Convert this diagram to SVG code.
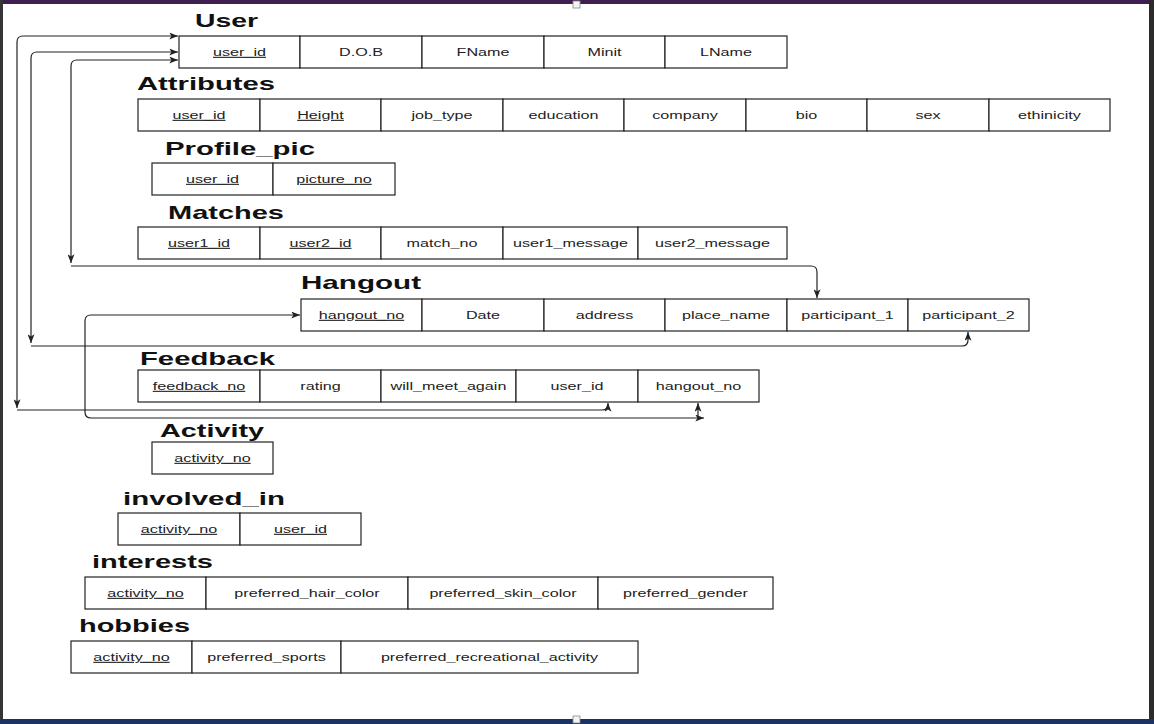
<svg xmlns="http://www.w3.org/2000/svg" width="1154" height="724" viewBox="0 0 1154 724">
<style>
.c{fill:#fff;stroke:#222;stroke-width:1.2}
.t{font-family:"Liberation Sans",Arial,sans-serif;font-size:11px;fill:#222;text-anchor:middle}
.k{text-decoration:underline}
.h{font-family:"Liberation Sans",Arial,sans-serif;font-weight:bold;font-size:19px;fill:#111}
.e{fill:none;stroke:#222;stroke-width:1.2}
</style>
<defs>
<marker id="a" viewBox="0 0 10 8" refX="10" refY="4" markerWidth="9" markerHeight="7" markerUnits="userSpaceOnUse" orient="auto-start-reverse">
<path d="M0,0 L10,4 L0,8 L2.5,4 Z" fill="#222"/>
</marker>
</defs>
<rect x="0" y="0" width="1154" height="724" fill="#fff"/>
<rect x="0" y="0" width="1154" height="4" fill="#3f1f4f"/>
<rect x="0" y="0" width="3" height="724" fill="#353535"/>
<rect x="1149" y="0" width="5" height="724" fill="#2b2b2b"/>
<rect x="0" y="719" width="1154" height="5" fill="#1c3263"/>
<rect x="573" y="1" width="7" height="7" fill="#f4f4f4" stroke="#888" stroke-width="0.8"/>
<rect x="573" y="716" width="7" height="7" fill="#f4f4f4" stroke="#888" stroke-width="0.8"/>

<g id="connectors">
<path class="e" d="M 17,408 L 17,42 Q 17,36 23,36 L 178,36" marker-start="url(#a)" marker-end="url(#a)"/>
<path class="e" d="M 17,410 L 602,410 Q 608,410 608,404 L 608,403" marker-end="url(#a)"/>
<path class="e" d="M 31,343 L 31,58 Q 31,52 37,52 L 178,52" marker-start="url(#a)" marker-end="url(#a)"/>
<path class="e" d="M 31,346 L 962,346 Q 968,346 968,340 L 968,332" marker-end="url(#a)"/>
<path class="e" d="M 71,263 L 71,66 Q 71,60 77,60 L 178,60" marker-start="url(#a)" marker-end="url(#a)"/>
<path class="e" d="M 71,266 L 811,266 Q 817,266 817,272 L 817,298" marker-end="url(#a)"/>
<path class="e" d="M 704,418 L 91,418 Q 85,418 85,412 L 85,321 Q 85,315 91,315 L 300,315" marker-start="url(#a)" marker-end="url(#a)"/>
<path class="e" d="M 698,418 L 698,403" marker-end="url(#a)"/>
</g>

<g id="User">
<text class="h" x="195" y="27" textLength="63" lengthAdjust="spacingAndGlyphs">User</text>
<rect class="c" x="179" y="36" width="121" height="32"/><rect class="c" x="300" y="36" width="122" height="32"/><rect class="c" x="422" y="36" width="122" height="32"/><rect class="c" x="544" y="36" width="121" height="32"/><rect class="c" x="665" y="36" width="122" height="32"/>
<text class="t k" transform="translate(239.5,56) scale(1.47,1)">user_id</text>
<text class="t" transform="translate(361,56) scale(1.47,1)">D.O.B</text>
<text class="t" transform="translate(483,56) scale(1.47,1)">FName</text>
<text class="t" transform="translate(604.5,56) scale(1.47,1)">Minit</text>
<text class="t" transform="translate(726,56) scale(1.47,1)">LName</text>
</g>

<g id="Attributes">
<text class="h" x="137" y="90" textLength="138" lengthAdjust="spacingAndGlyphs">Attributes</text>
<rect class="c" x="138" y="99" width="122" height="32"/><rect class="c" x="260" y="99" width="121" height="32"/><rect class="c" x="381" y="99" width="122" height="32"/><rect class="c" x="503" y="99" width="121" height="32"/><rect class="c" x="624" y="99" width="122" height="32"/><rect class="c" x="746" y="99" width="121" height="32"/><rect class="c" x="867" y="99" width="122" height="32"/><rect class="c" x="989" y="99" width="121" height="32"/>
<text class="t k" transform="translate(199,119) scale(1.47,1)">user_id</text>
<text class="t k" transform="translate(320.5,119) scale(1.47,1)">Height</text>
<text class="t" transform="translate(442,119) scale(1.47,1)">job_type</text>
<text class="t" transform="translate(563.5,119) scale(1.47,1)">education</text>
<text class="t" transform="translate(685,119) scale(1.47,1)">company</text>
<text class="t" transform="translate(806.5,119) scale(1.47,1)">bio</text>
<text class="t" transform="translate(928,119) scale(1.47,1)">sex</text>
<text class="t" transform="translate(1049.5,119) scale(1.47,1)">ethinicity</text>
</g>

<g id="Profile_pic">
<text class="h" x="165" y="155" textLength="150" lengthAdjust="spacingAndGlyphs">Profile_pic</text>
<rect class="c" x="152" y="163" width="121" height="32"/><rect class="c" x="273" y="163" width="122" height="32"/>
<text class="t k" transform="translate(212.5,183) scale(1.47,1)">user_id</text>
<text class="t k" transform="translate(334,183) scale(1.47,1)">picture_no</text>
</g>

<g id="Matches">
<text class="h" x="168" y="219" textLength="116" lengthAdjust="spacingAndGlyphs">Matches</text>
<rect class="c" x="138" y="227" width="122" height="32"/><rect class="c" x="260" y="227" width="121" height="32"/><rect class="c" x="381" y="227" width="122" height="32"/><rect class="c" x="503" y="227" width="135" height="32"/><rect class="c" x="638" y="227" width="149" height="32"/>
<text class="t k" transform="translate(199,247) scale(1.47,1)">user1_id</text>
<text class="t k" transform="translate(320.5,247) scale(1.47,1)">user2_id</text>
<text class="t" transform="translate(442,247) scale(1.47,1)">match_no</text>
<text class="t" transform="translate(570.5,247) scale(1.47,1)">user1_message</text>
<text class="t" transform="translate(712.5,247) scale(1.47,1)">user2_message</text>
</g>

<g id="Hangout">
<text class="h" x="301" y="289" textLength="120" lengthAdjust="spacingAndGlyphs">Hangout</text>
<rect class="c" x="301" y="299" width="121" height="32"/><rect class="c" x="422" y="299" width="122" height="32"/><rect class="c" x="544" y="299" width="121" height="32"/><rect class="c" x="665" y="299" width="122" height="32"/><rect class="c" x="787" y="299" width="121" height="32"/><rect class="c" x="908" y="299" width="121" height="32"/>
<text class="t k" transform="translate(361.5,319) scale(1.47,1)">hangout_no</text>
<text class="t" transform="translate(483,319) scale(1.47,1)">Date</text>
<text class="t" transform="translate(604.5,319) scale(1.47,1)">address</text>
<text class="t" transform="translate(726,319) scale(1.47,1)">place_name</text>
<text class="t" transform="translate(847.5,319) scale(1.47,1)">participant_1</text>
<text class="t" transform="translate(968.5,319) scale(1.47,1)">participant_2</text>
</g>

<g id="Feedback">
<text class="h" x="140" y="365" textLength="135" lengthAdjust="spacingAndGlyphs">Feedback</text>
<rect class="c" x="138" y="370" width="122" height="32"/><rect class="c" x="260" y="370" width="121" height="32"/><rect class="c" x="381" y="370" width="135" height="32"/><rect class="c" x="516" y="370" width="122" height="32"/><rect class="c" x="638" y="370" width="121" height="32"/>
<text class="t k" transform="translate(199,390) scale(1.47,1)">feedback_no</text>
<text class="t" transform="translate(320.5,390) scale(1.47,1)">rating</text>
<text class="t" transform="translate(448.5,390) scale(1.47,1)">will_meet_again</text>
<text class="t" transform="translate(577,390) scale(1.47,1)">user_id</text>
<text class="t" transform="translate(698.5,390) scale(1.47,1)">hangout_no</text>
</g>

<g id="Activity">
<text class="h" x="160" y="437" textLength="104" lengthAdjust="spacingAndGlyphs">Activity</text>
<rect class="c" x="152" y="442" width="121" height="32"/>
<text class="t k" transform="translate(212.5,462) scale(1.47,1)">activity_no</text>
</g>

<g id="involved_in">
<text class="h" x="123" y="505" textLength="162" lengthAdjust="spacingAndGlyphs">involved_in</text>
<rect class="c" x="118" y="513" width="122" height="32"/><rect class="c" x="240" y="513" width="121" height="32"/>
<text class="t k" transform="translate(179,533) scale(1.47,1)">activity_no</text>
<text class="t k" transform="translate(300.5,533) scale(1.47,1)">user_id</text>
</g>

<g id="interests">
<text class="h" x="92" y="568" textLength="121" lengthAdjust="spacingAndGlyphs">interests</text>
<rect class="c" x="85" y="577" width="121" height="32"/><rect class="c" x="206" y="577" width="202" height="32"/><rect class="c" x="408" y="577" width="190" height="32"/><rect class="c" x="598" y="577" width="175" height="32"/>
<text class="t k" transform="translate(145.5,597) scale(1.47,1)">activity_no</text>
<text class="t" transform="translate(307,597) scale(1.47,1)">preferred_hair_color</text>
<text class="t" transform="translate(503,597) scale(1.47,1)">preferred_skin_color</text>
<text class="t" transform="translate(685.5,597) scale(1.47,1)">preferred_gender</text>
</g>

<g id="hobbies">
<text class="h" x="79" y="632" textLength="111" lengthAdjust="spacingAndGlyphs">hobbies</text>
<rect class="c" x="71" y="641" width="121" height="32"/><rect class="c" x="192" y="641" width="149" height="32"/><rect class="c" x="341" y="641" width="297" height="32"/>
<text class="t k" transform="translate(131.5,661) scale(1.47,1)">activity_no</text>
<text class="t" transform="translate(266.5,661) scale(1.47,1)">preferred_sports</text>
<text class="t" transform="translate(489.5,661) scale(1.47,1)">preferred_recreational_activity</text>
</g>
</svg>
